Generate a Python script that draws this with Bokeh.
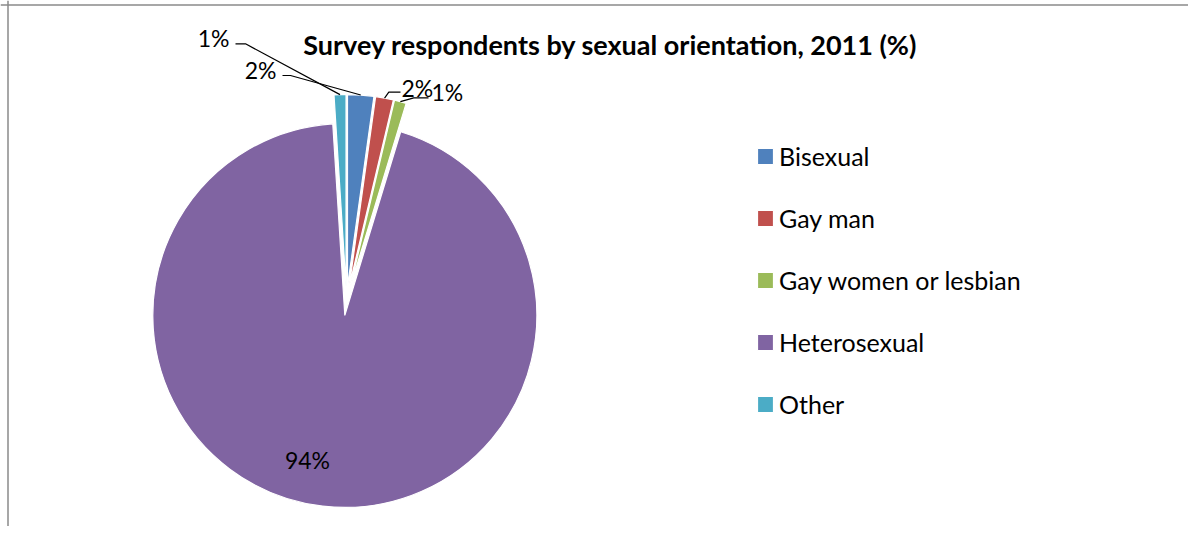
import math
from bokeh.plotting import figure
from bokeh.models import ColumnDataSource, Range1d, Legend, LegendItem, Span, Label
from bokeh.core.properties import value
from bokeh.embed import file_html
from bokeh.resources import INLINE

# ---------------- data ----------------
categories = ["Bisexual", "Gay man", "Gay women or lesbian", "Heterosexual", "Other"]
values = [2.2, 1.5, 1.0, 94.3, 1.0]
colors = ["#4F81BD", "#C0504D", "#9BBB59", "#8064A2", "#4BACC6"]
title_text = "Survey respondents by sexual orientation, 2011 (%)"

# ---------------- layout (reference pixel coordinates) ----------------
W, H = 1188, 526
PAGE_H = 542
CX, CY = 346.0, 300.5      # pie centre (px, y down)
R = 192.0                  # radius px
EXPLODE = 14.5             # explosion px

def Y(y):  # px y (down) -> data y (up)
    return PAGE_H - y

# label anchors (visual centre) / leader bends, per category (layout only)
label_layout = {
    "Bisexual":             dict(x=276, y=69.0, align="right", bend=(290, 75.0), stub=(282, 75.0)),
    "Gay man":              dict(x=401, y=87.5, align="left", bend=(388.3, 91.7), stub=(400, 91.7)),
    "Gay women or lesbian": dict(x=431, y=91.0, align="left", bend=(413.3, 97.3), stub=(428, 97.3)),
    "Heterosexual":         dict(x=307, y=459.5, align="center", bend=None, stub=None),
    "Other":                dict(x=229, y=37.0, align="right", bend=(245, 43.3), stub=(235, 43.3)),
}

# ---------------- geometry from data ----------------
total = sum(values)
cum = 0.0
xs, ys, starts, ends = [], [], [], []
edge_pts = []
for v in values:
    t1 = cum / total * 2 * math.pi          # clockwise from 12 o'clock
    t2 = (cum + v) / total * 2 * math.pi
    tm = (t1 + t2) / 2
    cx = CX + EXPLODE * math.sin(tm)
    cy = CY - EXPLODE * math.cos(tm)
    xs.append(cx)
    ys.append(Y(cy))
    starts.append(math.pi / 2 - t2)
    ends.append(math.pi / 2 - t1)
    edge_pts.append((cx + R * math.sin(tm), cy - R * math.cos(tm)))
    cum += v

src = ColumnDataSource(dict(x=xs, y=ys, start=starts, end=ends, color=colors, cat=categories))

p = figure(width=W, height=H, x_range=Range1d(0, W), y_range=Range1d(PAGE_H - H, PAGE_H),
           output_backend="svg", toolbar_location=None, x_axis_type=None, y_axis_type=None,
           min_border=0, outline_line_color=None, background_fill_color="white",
           border_fill_color="white")
p.grid.visible = False

r = p.wedge(x="x", y="y", radius=R, radius_units="data", start_angle="start", end_angle="end",
            fill_color="color", line_color="white", line_width=1.2, source=src)

# chart-area border (cut at right/bottom)
p.add_layout(Span(location=7.5, dimension="height", line_color="#8a8a8a", line_width=1.5))
p.add_layout(Span(location=Y(4.5), dimension="width", line_color="#8a8a8a", line_width=1.5))

# data labels + leader lines
lx, ly, ltxt, lalign = [], [], [], []
lead_xs, lead_ys = [], []
for i, c in enumerate(categories):
    lay = label_layout[c]
    lx.append(lay["x"])
    ly.append(Y(lay["y"]))
    ltxt.append(f"{round(values[i] / total * 100)}%")
    lalign.append(lay["align"])
    if lay["bend"] is not None:
        ex, ey = edge_pts[i]
        bx, by = lay["bend"]
        sx, sy = lay["stub"]
        lead_xs.append([ex, bx, sx])
        lead_ys.append([Y(ey), Y(by), Y(sy)])

p.multi_line(xs=lead_xs, ys=lead_ys, line_color="black", line_width=1.2)
lsrc = ColumnDataSource(dict(x=lx, y=ly, t=ltxt, a=lalign))
p.text(x="x", y="y", text="t", text_align="a", text_baseline="middle", source=lsrc,
       text_font=value("Lato"), text_font_size="23px", text_color="black")

# title
p.add_layout(Label(x=610, y=Y(44), text=title_text, text_align="center", text_baseline="middle",
                   text_font="Lato", text_font_style="bold", text_font_size="27px", text_color="black"))

# legend
items = [LegendItem(label=c, renderers=[r], index=i) for i, c in enumerate(categories)]
legend = Legend(items=items, location=(755, 107), orientation="vertical",
                label_text_font="Lato", label_text_font_size="25px", label_text_color="black",
                glyph_width=20, glyph_height=20, label_height=30, label_standoff=4,
                spacing=32, padding=0, margin=0,
                border_line_alpha=0, background_fill_alpha=0)
p.add_layout(legend)

open("out.html", "w").write(file_html(p, INLINE))
